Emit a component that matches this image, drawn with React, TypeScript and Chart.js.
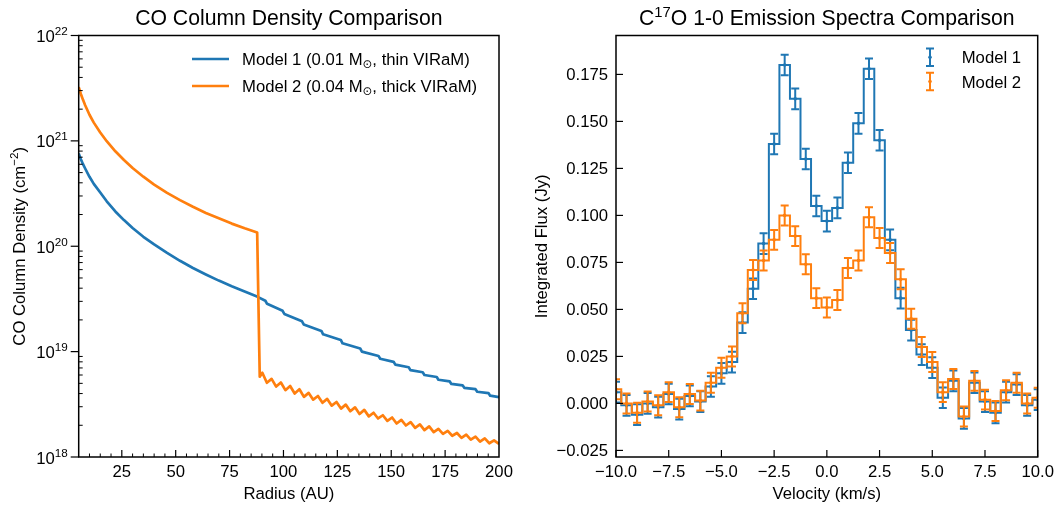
import React, { useEffect, useRef } from 'react';
import { Chart, registerables } from 'chart.js';

Chart.register(...registerables);

const W = 1058;
const H = 505;
const FONT = '"Liberation Sans", Arial, "DejaVu Sans", sans-serif';
const SYM_FONT = '"DejaVu Sans", sans-serif';
const BLUE = '#1f77b4';
const ORANGE = '#ff7f0e';

// ---------- Left panel: CO column density ----------
const radiusModel1 = [5, 6, 7, 8, 10, 12, 15, 18, 22, 26, 30, 35, 40, 46, 52, 58, 64, 70, 76, 82, 88,
  91.6, 92.4, 99.6, 100.4, 108.6, 109.4, 117.6, 118.4, 126.6, 127.4, 135.6, 136.4, 144.1, 144.9,
  151.1, 151.9, 158.1, 158.9, 164.6, 165.4, 171.1, 171.9, 177.1, 177.9, 183.1, 183.9, 189.1, 189.9,
  195.1, 195.9, 200];
const densityModel1 = [7.59e20, 6.70e20, 6.01e20, 5.47e20, 4.56e20, 3.91e20, 3.24e20, 2.67e20, 2.14e20,
  1.77e20, 1.49e20, 1.23e20, 1.04e20, 8.65e19, 7.28e19, 6.22e19, 5.40e19, 4.72e19, 4.17e19, 3.72e19, 3.31e19,
  3.04e19, 2.84e19, 2.44e19, 2.28e19, 1.94e19, 1.81e19, 1.57e19, 1.46e19, 1.29e19, 1.20e19, 1.07e19, 1.00e19,
  9.08e18, 8.55e18, 8.00e18, 7.53e18, 7.10e18, 6.68e18, 6.37e18, 6.00e18, 5.74e18, 5.41e18, 5.22e18, 4.94e18,
  4.79e18, 4.53e18, 4.40e18, 4.16e18, 4.04e18, 3.82e18, 3.70e18];

const radiusModel2 = [5, 6, 7, 8, 10, 12, 15, 18, 22, 26, 30, 35, 40, 46, 52, 58, 64, 70, 76, 82, 87.8,
  89.0, 90.2, 92.3, 94.5, 96.6, 98.8, 100.9, 103.1, 105.2, 107.4, 109.5, 111.7, 113.8, 116.0, 118.1,
  120.3, 122.4, 124.6, 126.7, 128.9, 131.0, 133.2, 135.3, 137.5, 139.6, 141.8, 143.9, 146.1, 148.2,
  150.4, 152.5, 154.7, 156.8, 159.0, 161.1, 163.3, 165.4, 167.6, 169.7, 171.9, 174.0, 176.2, 178.3,
  180.5, 182.6, 184.8, 186.9, 189.1, 191.2, 193.4, 195.5, 197.7, 200];
const densityModel2 = [3.24e21, 2.79e21, 2.45e21, 2.18e21, 1.77e21, 1.49e21, 1.20e21, 9.93e20, 7.96e20,
  6.58e20, 5.53e20, 4.57e20, 3.85e20, 3.21e20, 2.74e20, 2.37e20, 2.07e20, 1.84e20, 1.64e20, 1.48e20, 1.35e20,
  5.78e18, 6.30e18, 5.06e18, 5.51e18, 4.66e18, 5.09e18, 4.31e18, 4.72e18, 4.00e18, 4.39e18, 3.72e18,
  4.06e18, 3.50e18, 3.79e18, 3.27e18, 3.56e18, 3.07e18, 3.33e18, 2.88e18, 3.14e18, 2.72e18, 2.96e18,
  2.56e18, 2.80e18, 2.43e18, 2.63e18, 2.32e18, 2.49e18, 2.20e18, 2.37e18, 2.08e18, 2.25e18, 1.99e18,
  2.14e18, 1.89e18, 2.04e18, 1.80e18, 1.95e18, 1.72e18, 1.85e18, 1.66e18, 1.77e18, 1.59e18, 1.69e18,
  1.52e18, 1.63e18, 1.46e18, 1.56e18, 1.40e18, 1.50e18, 1.35e18, 1.44e18, 1.33e18];

const radiusTicks = [25, 50, 75, 100, 125, 150, 175, 200];
const densityDecades = [18, 19, 20, 21, 22];

// ---------- Right panel: C17O spectra ----------
const velocity = [-10, -9.5, -9, -8.5, -8, -7.5, -7, -6.5, -6, -5.5, -5, -4.5, -4, -3.5, -3, -2.5, -2,
  -1.5, -1, -0.5, 0, 0.5, 1, 1.5, 2, 2.5, 3, 3.5, 4, 4.5, 5, 5.5, 6, 6.5, 7, 7.5, 8, 8.5, 9, 9.5, 10];
const fluxModel1 = [0.006, -0.001, -0.006, 0.000, -0.002, 0.005, -0.003, 0.004, 0.001, 0.009, 0.016,
  0.022, 0.043, 0.061, 0.085, 0.138, 0.180, 0.162, 0.130, 0.105, 0.097, 0.104, 0.128, 0.149, 0.178,
  0.140, 0.087, 0.056, 0.039, 0.026, 0.019, 0.003, 0.012, -0.008, 0.011, 0.001, -0.005, 0.006, 0.010,
  -0.001, 0.002];
const fluxModel2 = [0.0075, 0.000, -0.005, 0.001, -0.001, 0.006, -0.002, 0.005, 0.0015, 0.011, 0.019,
  0.025, 0.048, 0.071, 0.076, 0.087, 0.100, 0.089, 0.074, 0.056, 0.051, 0.055, 0.072, 0.076, 0.099,
  0.088, 0.080, 0.066, 0.045, 0.030, 0.022, 0.006, 0.013, -0.007, 0.012, 0.002, -0.004, 0.007, 0.011,
  0.000, 0.003];
const errModel1 = 0.0055;
const errModel2 = 0.0053;
const velocityTicks = [-10, -7.5, -5, -2.5, 0, 2.5, 5, 7.5, 10];
const fluxTicks = [-0.025, 0, 0.025, 0.05, 0.075, 0.1, 0.125, 0.15, 0.175];

// ---------- text helpers ----------
type Seg = { t: string; s: number; dy?: number; f?: string };

function segsWidth(ctx: CanvasRenderingContext2D, segs: Seg[]) {
  let w = 0;
  for (const s of segs) {
    ctx.font = `${s.s}px ${s.f || FONT}`;
    w += ctx.measureText(s.t).width;
  }
  return w;
}

function drawSegs(ctx: CanvasRenderingContext2D, segs: Seg[], x: number, y: number, align: 'left' | 'center' | 'right') {
  const w = segsWidth(ctx, segs);
  let cx = align === 'left' ? x : align === 'center' ? x - w / 2 : x - w;
  ctx.textAlign = 'left';
  ctx.textBaseline = 'alphabetic';
  for (const s of segs) {
    ctx.font = `${s.s}px ${s.f || FONT}`;
    ctx.fillText(s.t, cx, y + (s.dy || 0));
    cx += ctx.measureText(s.t).width;
  }
}

function drawRotated(ctx: CanvasRenderingContext2D, segs: Seg[], x: number, y: number) {
  ctx.save();
  ctx.translate(x, y);
  ctx.rotate(-Math.PI / 2);
  drawSegs(ctx, segs, 0, 0, 'center');
  ctx.restore();
}

const TICK = 16.7;
const TITLE = 21.2;
const SUP = 11.7;
const fmtNum = (v: number, d: number) => v.toFixed(d).replace('-', '\u2212');

const leftDecor = {
  id: 'leftDecor',
  afterDraw(chart: any) {
    const { ctx, chartArea: a, scales } = chart;
    const xs = scales.x;
    const ys = scales.y;
    ctx.save();
    ctx.fillStyle = '#000';
    ctx.strokeStyle = '#000';
    ctx.lineCap = 'butt';
    for (let r = 10; r < 200; r += 5) {
      const px = xs.getPixelForValue(r);
      const major = radiusTicks.includes(r);
      ctx.lineWidth = major ? 1.2 : 1;
      ctx.beginPath();
      ctx.moveTo(px, a.bottom);
      ctx.lineTo(px, a.bottom - (major ? 7 : 3.5));
      ctx.stroke();
    }
    for (const d of densityDecades) {
      const py = ys.getPixelForValue(Math.pow(10, d));
      ctx.lineWidth = 1.2;
      ctx.beginPath();
      ctx.moveTo(a.left, py);
      ctx.lineTo(a.left - 8, py);
      ctx.stroke();
      if (d < 22) {
        for (let m = 2; m <= 9; m++) {
          const pm = ys.getPixelForValue(m * Math.pow(10, d));
          ctx.lineWidth = 1;
          ctx.beginPath();
          ctx.moveTo(a.left, pm);
          ctx.lineTo(a.left + 4, pm);
          ctx.stroke();
        }
      }
      drawSegs(ctx, [{ t: '10', s: TICK }, { t: String(d), s: SUP, dy: -7 }], a.left - 11, py + 6.5, 'right');
    }
    for (const r of radiusTicks) {
      drawSegs(ctx, [{ t: String(r), s: TICK }], xs.getPixelForValue(r), 476.5, 'center');
    }
    ctx.lineWidth = 1.5;
    ctx.strokeRect(a.left, a.top, a.right - a.left, a.bottom - a.top);
    const cx = (a.left + a.right) / 2;
    drawSegs(ctx, [{ t: 'CO Column Density Comparison', s: TITLE }], cx, 25, 'center');
    drawSegs(ctx, [{ t: 'Radius (AU)', s: TICK }], cx, 499, 'center');
    drawRotated(ctx, [
      { t: 'CO Column Density (cm', s: TICK },
      { t: '\u22122', s: SUP, dy: -7 },
      { t: ')', s: TICK },
    ], 25, (a.top + a.bottom) / 2);
    const items = [
      { c: BLUE, y: 59, mass: '0.01', kind: 'thin', n: '1' },
      { c: ORANGE, y: 86, mass: '0.04', kind: 'thick', n: '2' },
    ];
    for (const it of items) {
      ctx.strokeStyle = it.c;
      ctx.lineWidth = 2.7;
      ctx.beginPath();
      ctx.moveTo(192, it.y);
      ctx.lineTo(229, it.y);
      ctx.stroke();
      ctx.fillStyle = '#000';
      drawSegs(ctx, [
        { t: `Model ${it.n} (${it.mass} M`, s: TICK },
        { t: '\u2299', s: SUP, dy: 3, f: SYM_FONT },
        { t: `, ${it.kind} VIRaM)`, s: TICK },
      ], 242, it.y + 6, 'left');
    }
    ctx.restore();
  },
};

const rightDecor = {
  id: 'rightDecor',
  afterDatasetDraw(chart: any, args: any) {
    const idx = args.index;
    const flux = idx === 0 ? fluxModel2 : fluxModel1;
    const err = idx === 0 ? errModel2 : errModel1;
    const color = idx === 0 ? ORANGE : BLUE;
    const { ctx, chartArea: a, scales } = chart;
    const xs = scales.x;
    const ys = scales.y;
    ctx.save();
    ctx.beginPath();
    ctx.rect(a.left, a.top, a.right - a.left, a.bottom - a.top);
    ctx.clip();
    ctx.strokeStyle = color;
    ctx.fillStyle = color;
    ctx.lineWidth = 2;
    ctx.lineCap = 'butt';
    velocity.forEach((v, i) => {
      const px = xs.getPixelForValue(v);
      const top = ys.getPixelForValue(flux[i] + err);
      const bot = ys.getPixelForValue(flux[i] - err);
      ctx.beginPath();
      ctx.moveTo(px, top);
      ctx.lineTo(px, bot);
      ctx.moveTo(px - 4, top);
      ctx.lineTo(px + 4, top);
      ctx.moveTo(px - 4, bot);
      ctx.lineTo(px + 4, bot);
      ctx.stroke();
      ctx.beginPath();
      ctx.arc(px, ys.getPixelForValue(flux[i]), 1.8, 0, Math.PI * 2);
      ctx.fill();
    });
    ctx.restore();
  },
  afterDraw(chart: any) {
    const { ctx, chartArea: a, scales } = chart;
    const xs = scales.x;
    const ys = scales.y;
    ctx.save();
    ctx.fillStyle = '#000';
    ctx.strokeStyle = '#000';
    ctx.lineWidth = 1.2;
    for (const v of velocityTicks) {
      const px = xs.getPixelForValue(v);
      ctx.beginPath();
      ctx.moveTo(px, a.bottom);
      ctx.lineTo(px, a.bottom - 7);
      ctx.stroke();
      drawSegs(ctx, [{ t: fmtNum(v, 1), s: TICK }], px, 476.5, 'center');
    }
    for (const f of fluxTicks) {
      const py = ys.getPixelForValue(f);
      ctx.beginPath();
      ctx.moveTo(a.left, py);
      ctx.lineTo(a.left + 7, py);
      ctx.stroke();
      drawSegs(ctx, [{ t: fmtNum(f, 3), s: TICK }], a.left - 8, py + 6, 'right');
    }
    ctx.lineWidth = 1.5;
    ctx.strokeRect(a.left, a.top, a.right - a.left, a.bottom - a.top);
    const cx = (a.left + a.right) / 2;
    drawSegs(ctx, [
      { t: 'C', s: TITLE },
      { t: '17', s: 14.8, dy: -8.5 },
      { t: 'O 1-0 Emission Spectra Comparison', s: TITLE },
    ], cx, 25, 'center');
    drawSegs(ctx, [{ t: 'Velocity (km/s)', s: TICK }], cx, 499, 'center');
    drawRotated(ctx, [{ t: 'Integrated Flux (Jy)', s: TICK }], 547, (a.top + a.bottom) / 2);
    const items = [
      { c: BLUE, y: 57.3, t: 'Model 1' },
      { c: ORANGE, y: 81.5, t: 'Model 2' },
    ];
    for (const it of items) {
      ctx.strokeStyle = it.c;
      ctx.fillStyle = it.c;
      ctx.lineWidth = 2;
      const hx = 930;
      ctx.beginPath();
      ctx.moveTo(hx, it.y - 8.8);
      ctx.lineTo(hx, it.y + 8.8);
      ctx.moveTo(hx - 4, it.y - 8.8);
      ctx.lineTo(hx + 4, it.y - 8.8);
      ctx.moveTo(hx - 4, it.y + 8.8);
      ctx.lineTo(hx + 4, it.y + 8.8);
      ctx.stroke();
      ctx.beginPath();
      ctx.arc(hx, it.y, 1.8, 0, Math.PI * 2);
      ctx.fill();
      ctx.fillStyle = '#000';
      drawSegs(ctx, [{ t: it.t, s: TICK }], 961.7, it.y + 6, 'left');
    }
    ctx.restore();
  },
};

export default function App() {
  const leftRef = useRef<HTMLCanvasElement>(null);
  const rightRef = useRef<HTMLCanvasElement>(null);

  useEffect(() => {
    const left = new Chart(leftRef.current as HTMLCanvasElement, {
      type: 'line',
      data: {
        datasets: [
          {
            label: 'Model 2 (0.04 M\u2299, thick VIRaM)',
            data: radiusModel2.map((r, i) => ({ x: r, y: densityModel2[i] })),
            borderColor: ORANGE,
            borderWidth: 2.7,
            pointRadius: 0,
            borderJoinStyle: 'round',
            tension: 0,
            order: 0,
          },
          {
            label: 'Model 1 (0.01 M\u2299, thin VIRaM)',
            data: radiusModel1.map((r, i) => ({ x: r, y: densityModel1[i] })),
            borderColor: BLUE,
            borderWidth: 2.7,
            pointRadius: 0,
            borderJoinStyle: 'round',
            tension: 0,
            order: 1,
          },
        ],
      },
      options: {
        responsive: false,
        animation: false,
        devicePixelRatio: 1,
        layout: { padding: { left: 78.7, top: 35.5, right: W - 499, bottom: H - 457 } },
        scales: {
          x: { type: 'linear', min: 5, max: 200, display: false },
          y: { type: 'logarithmic', min: 1e18, max: 1e22, display: false },
        },
        plugins: { legend: { display: false }, tooltip: { enabled: false }, title: { display: false } },
        events: [],
      },
      plugins: [leftDecor],
    } as any);

    const right = new Chart(rightRef.current as HTMLCanvasElement, {
      type: 'line',
      data: {
        datasets: [
          {
            label: 'Model 2',
            data: velocity.map((v, i) => ({ x: v, y: fluxModel2[i] })),
            borderColor: ORANGE,
            borderWidth: 2,
            pointRadius: 0,
            stepped: 'middle',
            order: 0,
          },
          {
            label: 'Model 1',
            data: velocity.map((v, i) => ({ x: v, y: fluxModel1[i] })),
            borderColor: BLUE,
            borderWidth: 2,
            pointRadius: 0,
            stepped: 'middle',
            order: 1,
          },
        ],
      },
      options: {
        responsive: false,
        animation: false,
        devicePixelRatio: 1,
        layout: { padding: { left: 616, top: 35.5, right: W - 1037.7, bottom: H - 457 } },
        scales: {
          x: { type: 'linear', min: -10, max: 10, display: false },
          y: { type: 'linear', min: -0.0285, max: 0.1957, display: false },
        },
        plugins: { legend: { display: false }, tooltip: { enabled: false }, title: { display: false } },
        events: [],
      },
      plugins: [rightDecor],
    } as any);

    return () => {
      left.destroy();
      right.destroy();
    };
  }, []);

  const cstyle: React.CSSProperties = { position: 'absolute', left: 0, top: 0, width: W, height: H };
  return (
    <div style={{ position: 'absolute', left: 0, top: 0, width: W, height: H, background: '#fff' }}>
      <canvas ref={leftRef} width={W} height={H} style={cstyle} />
      <canvas ref={rightRef} width={W} height={H} style={cstyle} />
    </div>
  );
}
